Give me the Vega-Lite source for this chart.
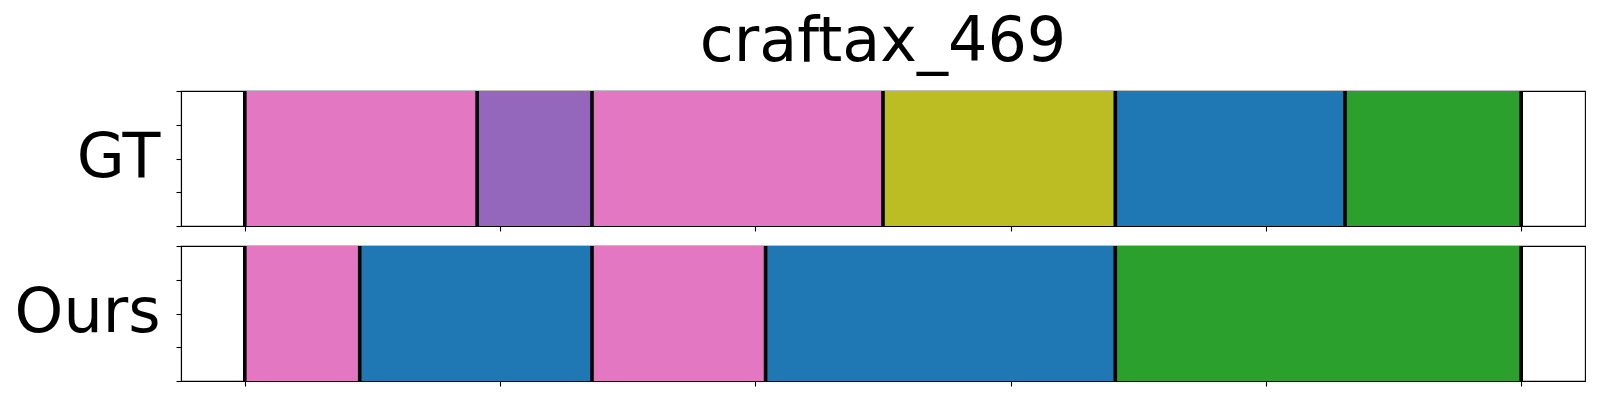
{
  "$schema": "https://vega.github.io/schema/vega-lite/v6.json",
  "background": "white",
  "padding": {"left": 13, "top": 10, "right": 0, "bottom": 0},
  "config": {
    "font": "DejaVu Sans",
    "view": {"stroke": "black", "strokeWidth": 1.1},
    "axis": {"zindex": 1}
  },
  "datasets": {
    "segments": [
      {"panel": "GT", "start": 0, "end": 91, "label": "c6"},
      {"panel": "GT", "start": 91, "end": 136, "label": "c4"},
      {"panel": "GT", "start": 136, "end": 250, "label": "c6"},
      {"panel": "GT", "start": 250, "end": 341, "label": "c8"},
      {"panel": "GT", "start": 341, "end": 431, "label": "c0"},
      {"panel": "GT", "start": 431, "end": 500, "label": "c2"},
      {"panel": "Ours", "start": 0, "end": 45, "label": "c6"},
      {"panel": "Ours", "start": 45, "end": 136, "label": "c0"},
      {"panel": "Ours", "start": 136, "end": 204, "label": "c6"},
      {"panel": "Ours", "start": 204, "end": 341, "label": "c0"},
      {"panel": "Ours", "start": 341, "end": 500, "label": "c2"}
    ],
    "bounds": [
      {"panel": "GT", "pos": 0}, {"panel": "GT", "pos": 91}, {"panel": "GT", "pos": 136},
      {"panel": "GT", "pos": 250}, {"panel": "GT", "pos": 341}, {"panel": "GT", "pos": 431},
      {"panel": "GT", "pos": 500},
      {"panel": "Ours", "pos": 0}, {"panel": "Ours", "pos": 45}, {"panel": "Ours", "pos": 136},
      {"panel": "Ours", "pos": 204}, {"panel": "Ours", "pos": 341}, {"panel": "Ours", "pos": 500}
    ]
  },
  "spacing": 20,
  "bounds": "flush",
  "vconcat": [
    {
      "width": 1404,
      "height": 135,
      "title": {"text": "craftax_469", "fontSize": 62, "fontWeight": "normal", "font": "DejaVu Sans", "color": "black", "anchor": "middle", "baseline": "alphabetic", "offset": -34},
      "layer": [
        {
          "data": {"name": "segments"},
          "transform": [{"filter": "datum.panel === 'GT'"}],
          "mark": {"type": "rect"},
          "encoding": {
            "x": {"field": "start", "type": "quantitative", "scale": {"domain": [-25, 525], "nice": false, "zero": false},
                  "axis": {"title": null, "labels": false, "grid": false, "values": [0, 100, 200, 300, 400, 500], "tickColor": "black", "tickSize": 5, "tickWidth": 1.1, "domainColor": "black", "domainWidth": 1.1}},
            "x2": {"field": "end"},
            "y": {"datum": 0, "type": "quantitative", "scale": {"domain": [0, 1], "nice": false},
                  "axis": {"title": "GT", "titleAngle": 0, "titleAlign": "right", "titleBaseline": "alphabetic", "titleX": -21, "titleY": 85, "titleFontSize": 62, "titleFontWeight": "normal", "titleColor": "black", "titleFont": "DejaVu Sans", "labels": false, "grid": false, "values": [0, 0.25, 0.5, 0.75, 1], "tickColor": "black", "tickSize": 5, "tickWidth": 1.1, "domainColor": "black", "domainWidth": 1.1}},
            "y2": {"datum": 1},
            "color": {"field": "label", "type": "nominal", "legend": null,
                      "scale": {"domain": ["c0", "c2", "c4", "c6", "c8"], "range": ["#1f77b4", "#2ca02c", "#9467bd", "#e377c2", "#bcbd22"]}}
          }
        },
        {
          "data": {"name": "bounds"},
          "transform": [{"filter": "datum.panel === 'GT'"}],
          "mark": {"type": "rule", "color": "black", "strokeWidth": 3.6},
          "encoding": {"x": {"field": "pos", "type": "quantitative"}}
        }
      ]
    },
    {
      "width": 1404,
      "height": 135,
      "layer": [
        {
          "data": {"name": "segments"},
          "transform": [{"filter": "datum.panel === 'Ours'"}],
          "mark": {"type": "rect"},
          "encoding": {
            "x": {"field": "start", "type": "quantitative", "scale": {"domain": [-25, 525], "nice": false, "zero": false},
                  "axis": {"title": null, "labels": false, "grid": false, "values": [0, 100, 200, 300, 400, 500], "tickColor": "black", "tickSize": 5, "tickWidth": 1.1, "domainColor": "black", "domainWidth": 1.1}},
            "x2": {"field": "end"},
            "y": {"datum": 0, "type": "quantitative", "scale": {"domain": [0, 1], "nice": false},
                  "axis": {"title": "Ours", "titleAngle": 0, "titleAlign": "right", "titleBaseline": "alphabetic", "titleX": -21, "titleY": 85, "titleFontSize": 62, "titleFontWeight": "normal", "titleColor": "black", "titleFont": "DejaVu Sans", "labels": false, "grid": false, "values": [0, 0.25, 0.5, 0.75, 1], "tickColor": "black", "tickSize": 5, "tickWidth": 1.1, "domainColor": "black", "domainWidth": 1.1}},
            "y2": {"datum": 1},
            "color": {"field": "label", "type": "nominal", "legend": null,
                      "scale": {"domain": ["c0", "c2", "c4", "c6", "c8"], "range": ["#1f77b4", "#2ca02c", "#9467bd", "#e377c2", "#bcbd22"]}}
          }
        },
        {
          "data": {"name": "bounds"},
          "transform": [{"filter": "datum.panel === 'Ours'"}],
          "mark": {"type": "rule", "color": "black", "strokeWidth": 3.6},
          "encoding": {"x": {"field": "pos", "type": "quantitative"}}
        }
      ]
    }
  ]
}
